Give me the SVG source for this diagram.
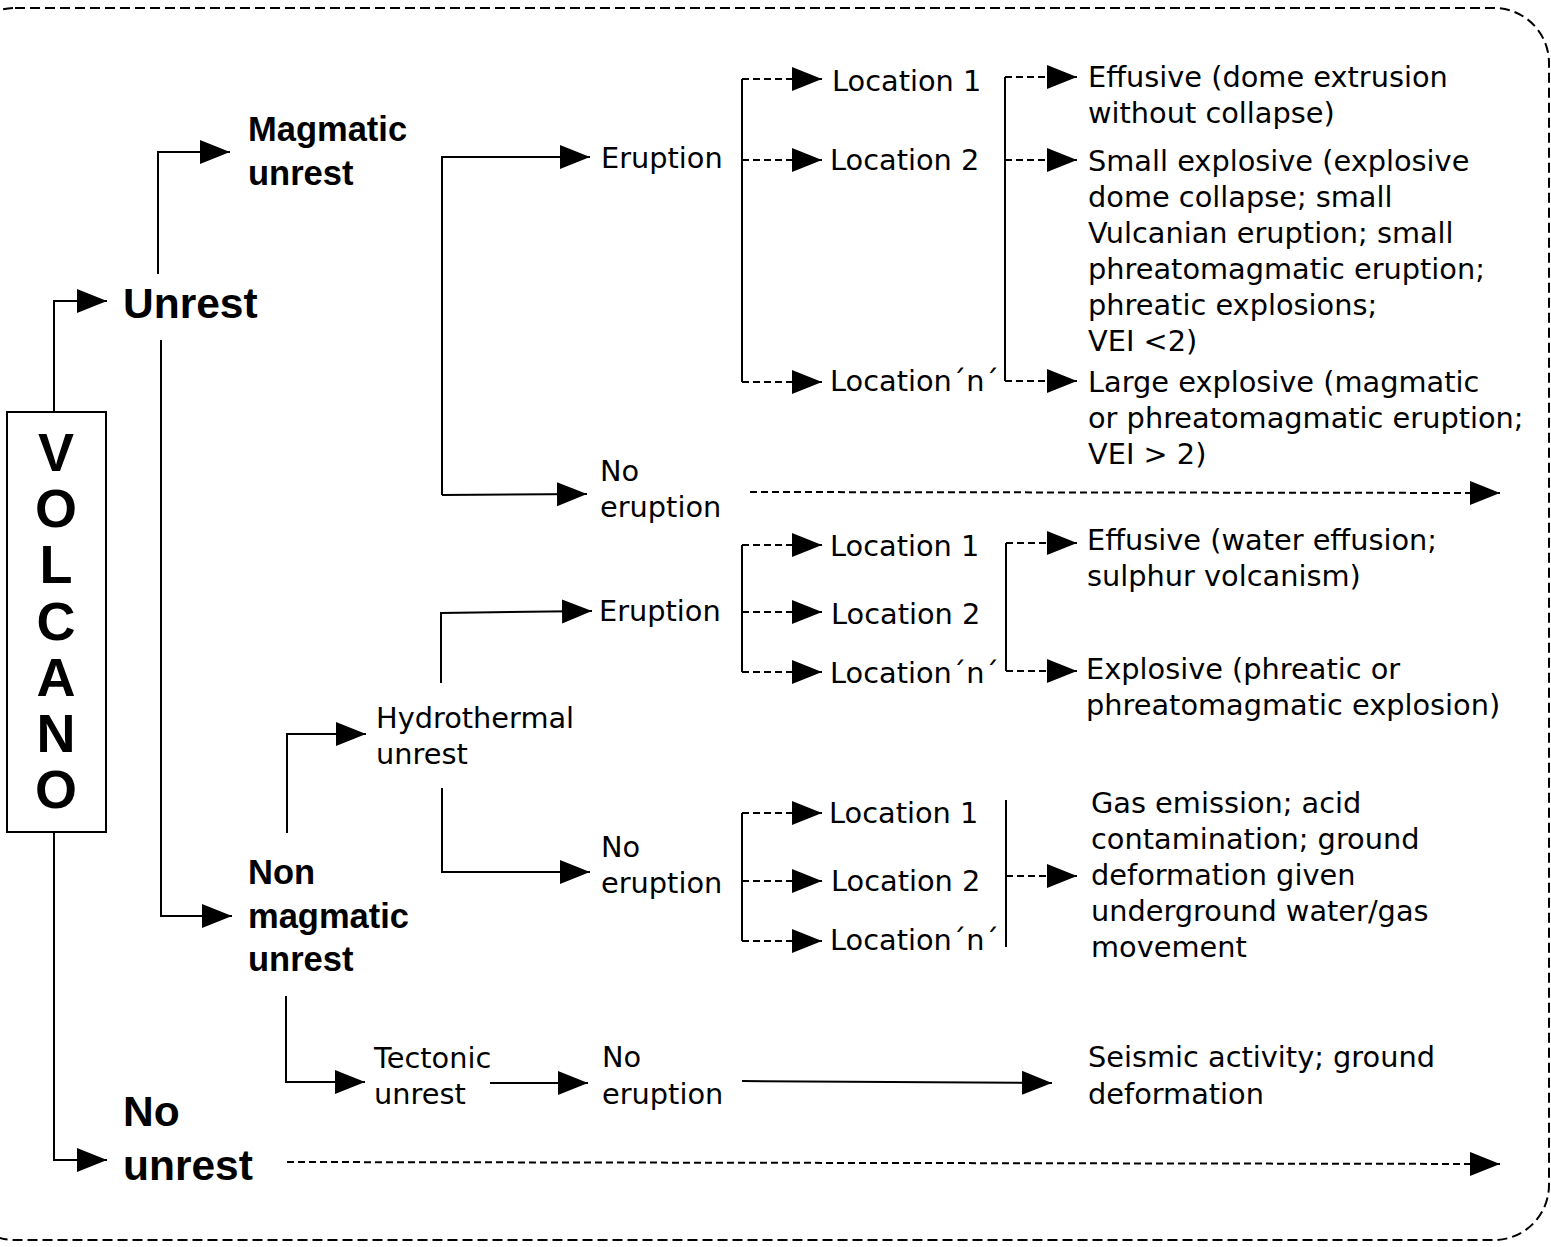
<svg xmlns="http://www.w3.org/2000/svg" width="1551" height="1247" viewBox="0 0 1551 1247">
<style>
.t{font-family:"DejaVu Sans","Liberation Sans",sans-serif;font-size:28.8px;fill:#000}
.b{font-family:"Liberation Sans",Arial,sans-serif;font-weight:bold;fill:#000}
.s{fill:none;stroke:#000;stroke-width:2}
.d{fill:none;stroke:#000;stroke-width:2;stroke-dasharray:7 4}
.a{marker-end:url(#ah)}
</style>
<defs>
<marker id="ah" markerUnits="userSpaceOnUse" markerWidth="31" markerHeight="26" refX="30" refY="12" orient="auto" viewBox="0 0 31 26">
<path d="M0,0 L30,12 L0,24 z" fill="#000"/>
</marker>
</defs>
<rect x="-40" y="8" width="1589" height="1232" rx="55" fill="none" stroke="#000" stroke-width="2" stroke-dasharray="10 5"/>

<g id="connectors">
<path class="s a" d="M54,412 V301 H107"/>
<path class="s a" d="M158,274 V152 H230"/>
<path class="s a" d="M161,340 V916 H232"/>
<path class="s a" d="M54,832 V1160 H107"/>
<path class="d a" d="M287,1162 L1500,1164"/>
<path class="s a" d="M442,495 V157 H590"/>
<path class="s a" d="M442,495 L587,494"/>
<path class="d a" d="M750,492 L1500,493"/>
<path class="s" d="M742,79 V382"/>
<path class="d a" d="M742,79 H822"/>
<path class="d a" d="M742,160 H822"/>
<path class="d a" d="M742,382 H822"/>
<path class="s" d="M1005,77 V381"/>
<path class="d a" d="M1005,77 H1077"/>
<path class="d a" d="M1005,160 H1077"/>
<path class="d a" d="M1005,381 H1077"/>
<path class="s a" d="M287,833 V734 H366"/>
<path class="s a" d="M441,683 V613 L592,611"/>
<path class="s a" d="M442,788 V872 H590"/>
<path class="s" d="M742,545 V672"/>
<path class="d a" d="M742,545 H822"/>
<path class="d a" d="M742,612 H822"/>
<path class="d a" d="M742,672 H822"/>
<path class="s" d="M1006,543 V671"/>
<path class="d a" d="M1006,543 H1077"/>
<path class="d a" d="M1006,671 H1077"/>
<path class="s" d="M742,813 V941"/>
<path class="d a" d="M742,813 H822"/>
<path class="d a" d="M742,881 H822"/>
<path class="d a" d="M742,941 H822"/>
<path class="s" d="M1006,800 V947"/>
<path class="d a" d="M1006,876 H1077"/>
<path class="s a" d="M286,996 V1082 H365"/>
<path class="s a" d="M490,1083 H588"/>
<path class="s a" d="M742,1081 L1052,1083"/>
</g>

<g id="volcano">
<rect x="7" y="412" width="99" height="420" fill="#fff" stroke="#000" stroke-width="2"/>
<g class="b" font-size="54" text-anchor="middle">
<text x="56" y="471">V</text>
<text x="56" y="527">O</text>
<text x="56" y="583">L</text>
<text x="56" y="640">C</text>
<text x="56" y="696">A</text>
<text x="56" y="752">N</text>
<text x="56" y="808">O</text>
</g>
</g>

<g id="unrest"><text class="b" font-size="42.5" x="123" y="318">Unrest</text></g>
<g id="magmatic-unrest"><text class="b" font-size="34.5" x="248" y="141">Magmatic</text><text class="b" font-size="34.5" x="248" y="185">unrest</text></g>
<g id="non-magmatic-unrest"><text class="b" font-size="34.5" x="248" y="884">Non</text><text class="b" font-size="34.5" x="248" y="928">magmatic</text><text class="b" font-size="34.5" x="248" y="971">unrest</text></g>
<g id="no-unrest"><text class="b" font-size="42.5" x="123" y="1126">No</text><text class="b" font-size="42.5" x="123" y="1180">unrest</text></g>

<g id="mag-eruption"><text class="t" x="601" y="168">Eruption</text></g>
<g id="mag-no-eruption"><text class="t" x="600" y="481">No</text><text class="t" x="600" y="517">eruption</text></g>
<g id="mag-loc1"><text class="t" x="832" y="91">Location 1</text></g>
<g id="mag-loc2"><text class="t" x="830" y="170">Location 2</text></g>
<g id="mag-locn"><text class="t" x="830" y="391">Location´n´</text></g>

<g id="mag-effusive"><text class="t" x="1088" y="87">Effusive (dome extrusion</text><text class="t" x="1088" y="123">without collapse)</text></g>
<g id="mag-small-explosive">
<text class="t" x="1088" y="171">Small explosive (explosive</text>
<text class="t" x="1088" y="207">dome collapse; small</text>
<text class="t" x="1088" y="243">Vulcanian eruption; small</text>
<text class="t" x="1088" y="279">phreatomagmatic eruption;</text>
<text class="t" x="1088" y="315">phreatic explosions;</text>
<text class="t" x="1088" y="351">VEI &lt;2)</text>
</g>
<g id="mag-large-explosive">
<text class="t" x="1088" y="392">Large explosive (magmatic</text>
<text class="t" x="1088" y="428">or phreatomagmatic eruption;</text>
<text class="t" x="1088" y="464">VEI &gt; 2)</text>
</g>

<g id="hydrothermal-unrest"><text class="t" x="376" y="728">Hydrothermal</text><text class="t" x="376" y="764">unrest</text></g>
<g id="hyd-eruption"><text class="t" x="599" y="621">Eruption</text></g>
<g id="hyd-loc1"><text class="t" x="830" y="556">Location 1</text></g>
<g id="hyd-loc2"><text class="t" x="831" y="624">Location 2</text></g>
<g id="hyd-locn"><text class="t" x="830" y="683">Location´n´</text></g>
<g id="hyd-effusive"><text class="t" x="1087" y="550">Effusive (water effusion;</text><text class="t" x="1087" y="586">sulphur volcanism)</text></g>
<g id="hyd-explosive"><text class="t" x="1086" y="679">Explosive (phreatic or</text><text class="t" x="1086" y="715">phreatomagmatic explosion)</text></g>

<g id="hyd-no-eruption"><text class="t" x="601" y="857">No</text><text class="t" x="601" y="893">eruption</text></g>
<g id="hyd-ne-loc1"><text class="t" x="829" y="823">Location 1</text></g>
<g id="hyd-ne-loc2"><text class="t" x="831" y="891">Location 2</text></g>
<g id="hyd-ne-locn"><text class="t" x="830" y="950">Location´n´</text></g>
<g id="hyd-gas">
<text class="t" x="1091" y="813">Gas emission; acid</text>
<text class="t" x="1091" y="849">contamination; ground</text>
<text class="t" x="1091" y="885">deformation given</text>
<text class="t" x="1091" y="921">underground water/gas</text>
<text class="t" x="1091" y="957">movement</text>
</g>

<g id="tectonic-unrest"><text class="t" x="374" y="1068">Tectonic</text><text class="t" x="374" y="1104">unrest</text></g>
<g id="tec-no-eruption"><text class="t" x="602" y="1067">No</text><text class="t" x="602" y="1104">eruption</text></g>
<g id="tec-seismic"><text class="t" x="1088" y="1067">Seismic activity; ground</text><text class="t" x="1088" y="1104">deformation</text></g>
</svg>
